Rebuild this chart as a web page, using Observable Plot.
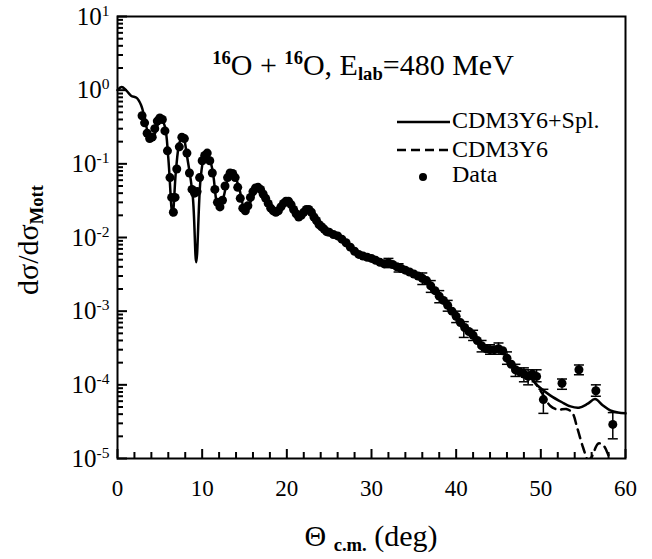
<!DOCTYPE html>
<html><head><meta charset="utf-8">
<script src="https://cdn.jsdelivr.net/npm/d3@7"></script>
<script src="https://cdn.jsdelivr.net/npm/@observablehq/plot@0.6"></script>
<style>
body{margin:0;background:#fff;}
#chart{width:652px;height:559px;}
</style></head><body><div id="chart"></div>
<script>
// ---- data ----
const thetaSpl = [0,0.5,1.0,1.6,2.3,2.8,3.2,3.7,4.1,4.6, 5.1,5.6,6.0,6.5,6.9,7.3,7.7,8.3,8.9,9.3, 9.8,10.2,10.6,11.2,11.9,12.5,13.0,13.6,14.3,15.1, 15.9,16.7,17.7,18.9,20.2,21.4,22.6,23.7,25.0,26.5, 28.0,29.5,31.0,32.5,34.0,35.5,36.6,37.5,38.5,39.3, 40.1,41.0,41.7,42.5,43.2,44.2,45.2,46.4,47.5,48.4, 49.6,51.1,52.5,53.5,54.5,55.5,56.4,57.3,58.2,59.1, 60];
const sigmaSpl = [1.0,1.1,1.0,0.84,0.78,0.62,0.42,0.24,0.21,0.30, 0.42,0.32,0.12,0.02,0.08,0.19,0.24,0.11,0.035,0.0046, 0.06,0.12,0.14,0.085,0.026,0.035,0.06,0.075,0.05,0.023, 0.034,0.048,0.033,0.022,0.031,0.019,0.024,0.016,0.012,0.0095, 0.0066,0.0055,0.0046,0.0042,0.0036,0.003,0.0025,0.0019,0.0014,0.0011, 0.00082,0.00062,0.00051,0.0004,0.00032,0.00031,0.0003,0.0002,0.00016,0.00014, 9.8e-5,7.2e-5,5.8e-5,5.1e-5,4.9e-5,5.5e-5,6.4e-5,5.3e-5,4.5e-5,4.2e-5, 4.1e-5];

const thetaNoSpl = [47.5,48.4,49.6,50.3,51.1,52.0,53.0,53.7,54.3,55.0,55.6,56.0,56.8,57.4,58.0,58.6,59.0];
const sigmaNoSpl = [1.6e-4,1.4e-4,9.6e-5,7.2e-5,5.2e-5,4.6e-5,4.7e-5,4.2e-5,2.6e-5,1.4e-5,0.95e-5,1.05e-5,1.6e-5,1.5e-5,1.1e-5,0.75e-5,0.55e-5];

const thetaData = [2.9,3.2,3.5,3.8,4.1,4.4,4.7,5.0,5.3,5.6, 5.9,6.2,6.4,6.6,6.8,7.0,7.3,7.6,7.9,8.2, 8.5,8.8,9.1,9.4,9.7,10.0,10.3,10.6,10.9,11.2, 11.5,11.8,12.1,12.4,12.7,13.0,13.3,13.6,13.9,14.2, 14.5,14.8,15.1,15.4,15.7,16.0,16.3,16.6,16.9,17.2, 17.5,17.8,18.1,18.4,18.7,19.0,19.3,19.6,19.9,20.2, 20.5,20.8,21.1,21.4,21.7,22.0,22.3,22.6,22.9,23.2, 23.5,23.8,24.1,24.4,24.7,25.0,25.5,26.0,26.5,27.0, 27.5,28.0,28.5,29.0,29.5,30.0,30.5,31.0,31.5,32.0, 32.5,33.0,33.5,34.0,34.5,35.0,35.5,36.0,36.5,37.0, 37.5,38.0,38.5,39.0,39.5,40.0,40.5,41.0,41.5,42.0, 42.5,43.0,43.5,44.0,44.5,45.0,45.5,46.0,46.5,47.0, 47.5,48.0,48.5,49.0,49.5, 50.3,52.5,54.5,56.5,58.5];
const sigmaData = [0.45,0.36,0.26,0.22,0.23,0.30,0.38,0.42,0.40,0.28, 0.15,0.065,0.035,0.022,0.035,0.085,0.17,0.23,0.22,0.14, 0.075,0.045,0.04,0.042,0.065,0.11,0.13,0.14,0.11,0.075, 0.045,0.03,0.026,0.032,0.05,0.065,0.075,0.074,0.065,0.048, 0.034,0.025,0.023,0.027,0.035,0.042,0.047,0.048,0.045,0.039, 0.034,0.029,0.025,0.023,0.022,0.023,0.026,0.029,0.031,0.031, 0.028,0.024,0.021,0.019,0.02,0.022,0.024,0.024,0.022,0.019, 0.017,0.015,0.014,0.013,0.012,0.0118,0.011,0.0105,0.0095,0.0085, 0.0074,0.0065,0.0059,0.0056,0.0054,0.0052,0.0049,0.0046,0.0044,0.0045, 0.0043,0.004,0.0038,0.0036,0.0034,0.0032,0.003,0.0028,0.0026,0.0022, 0.0019,0.0016,0.0014,0.0012,0.001,0.00085,0.0007,0.0006,0.00053,0.00047, 0.0004,0.00034,0.00031,0.0003,0.0003,0.00031,0.00029,0.00023,0.00019,0.00016, 0.00015,0.00014,0.00013,0.00014,0.00013, 6.3e-5,1.05e-4,1.6e-4,8.3e-5,2.9e-5];

const errTheta = [32.0,33.2,36.0,37.0,38.0,39.0,40.0,40.9,42.0,43.0,44.0,45.0,46.0,47.0,48.0,48.5,49.5,50.3,52.5,54.5,56.5,58.5];
const errLow   = [0.0039,0.0034,0.0023,0.0018,0.0013,0.001,0.0007,0.00044,0.0004,0.00028,0.00026,0.00026,0.00019,0.00013,0.00011,0.0001,0.00011,4.1e-5,8.7e-5,1.37e-4,7e-5,1.85e-5];
const errHigh  = [0.0052,0.0044,0.0033,0.0026,0.0019,0.0014,0.001,0.00072,0.00055,0.0004,0.00035,0.00037,0.00028,0.00019,0.00017,0.00016,0.00016,8.7e-5,1.2e-4,1.86e-4,1.0e-4,4.2e-5];

const xTickLabels = [0,10,20,30,40,50,60];
const xMinorStep = 2;
const yDecadeExponents = [-5,-4,-3,-2,-1,0,1];

const seriesNames = ["CDM3Y6+Spl.", "CDM3Y6", "Data"];
const titleText = "^b{16}O + ^b{16}O, E_b{lab}=480 MeV";
const yTitle = "dσ/dσ_b{Mott}";
const xTitle = "Θ _b{c.m.} (deg)";

// ---- derived tables ----
const spl = thetaSpl.map((t, i) => ({t, s: sigmaSpl[i]}));
const noSpl = thetaNoSpl.map((t, i) => ({t, s: sigmaNoSpl[i]}));
const data = thetaData.map((t, i) => ({t, s: sigmaData[i]}));
const errs = errTheta.map((t, i) => ({t, lo: errLow[i], hi: errHigh[i]}));
const yMajor = yDecadeExponents.map(e => Math.pow(10, e));
const yMinor = [];
yDecadeExponents.slice(0, -1).forEach(e => { for (let k = 2; k <= 9; k++) yMinor.push(k * Math.pow(10, e)); });
const xMinor = d3.range(0, 60 + 1e-9, xMinorStep).filter(v => v % 10 !== 0);

const capSymbol = {draw(ctx) { ctx.moveTo(-5, 0); ctx.lineTo(5, 0); }};

const chart = Plot.plot({
  width: 652, height: 559,
  marginLeft: 117, marginRight: 27, marginTop: 16, marginBottom: 101,
  style: {fontFamily: "'Liberation Serif', 'Times New Roman', serif", color: "black", background: "white"},
  x: {domain: [0, 60]},
  y: {type: "log", domain: [1e-5, 10]},
  marks: [
    Plot.line(spl, {x: "t", y: "s", curve: "catmull-rom", stroke: "black", strokeWidth: 2.5}),
    Plot.line(noSpl, {x: "t", y: "s", curve: "catmull-rom", stroke: "black", strokeWidth: 2.5, strokeDasharray: "9,6", clip: true}),
    Plot.ruleX(errs, {x: "t", y1: "lo", y2: "hi", stroke: "black", strokeWidth: 1.5}),
    Plot.dot(errs, {x: "t", y: "lo", symbol: capSymbol, fill: "none", stroke: "black", strokeWidth: 1.5}),
    Plot.dot(errs, {x: "t", y: "hi", symbol: capSymbol, fill: "none", stroke: "black", strokeWidth: 1.5}),
    Plot.dot(data, {x: "t", y: "s", r: 4.5, fill: "black", stroke: "none"}),
    Plot.frame({stroke: "black", strokeWidth: 2}),
    Plot.axisX(xMinor, {tickSize: -6, strokeWidth: 2, fill: "none", label: null}),
    Plot.axisX(xTickLabels, {tickSize: -9, strokeWidth: 2, fill: "none", label: null}),
    Plot.axisX(xTickLabels, {tickSize: 0, tickPadding: 21, fontSize: 23, label: null}),
    Plot.axisY(yMinor, {tickSize: -6, strokeWidth: 2, fill: "none", label: null}),
    Plot.axisY(yMajor, {tickSize: -10, strokeWidth: 2, fill: "none", label: null}),
    Plot.axisY(yMajor, {tickSize: 0, tickPadding: 8, fontSize: 25, label: null,
      tickFormat: d => `10^{${Math.round(Math.log10(d))}}`})
  ]
});
document.getElementById("chart").appendChild(chart);

const svg = d3.select(chart);
const font = "'Liberation Serif', 'Times New Roman', serif";
// title inside the frame
svg.append("text").attr("x", 363).attr("y", 75).attr("text-anchor", "middle")
  .attr("font-size", 30).attr("font-family", font).attr("fill", "black").text(titleText);
// axis titles
svg.append("text").attr("transform", "translate(38,240) rotate(-90)").attr("text-anchor", "middle")
  .attr("font-size", 30).attr("font-family", font).attr("fill", "black").text(yTitle);
svg.append("text").attr("x", 371).attr("y", 546).attr("text-anchor", "middle")
  .attr("font-size", 30).attr("font-family", font).attr("fill", "black").text(xTitle);
// legend
const lg = svg.append("g").attr("font-family", font).attr("font-size", 24).attr("fill", "black").attr("text-anchor", "start");
lg.append("line").attr("x1", 397).attr("x2", 450).attr("y1", 122).attr("y2", 122).attr("stroke", "black").attr("stroke-width", 2.5);
lg.append("line").attr("x1", 397).attr("x2", 450).attr("y1", 150).attr("y2", 150).attr("stroke", "black").attr("stroke-width", 2.5).attr("stroke-dasharray", "9,5");
lg.append("circle").attr("cx", 423).attr("cy", 177).attr("r", 4).attr("fill", "black");
[128, 157, 182].forEach((y, i) => lg.append("text").attr("x", 452).attr("y", y).attr("text-anchor", "start").text(seriesNames[i]));

// rich text: ^{..} superscript, _{..} subscript, b = bold
function richify(el) {
  const s = el.textContent;
  if (!/[\^_]b?\{/.test(s)) return;
  const re = /([\^_])(b?)\{([^}]*)\}/g;
  const ns = "http://www.w3.org/2000/svg";
  while (el.firstChild) el.removeChild(el.firstChild);
  const add = (txt, kind, bold) => {
    const t = document.createElementNS(ns, "tspan");
    t.textContent = txt;
    if (kind) {
      t.setAttribute("baseline-shift", kind === "^" ? "0.6em" : "-0.25em");
      t.setAttribute("font-size", "62%");
    }
    if (bold) t.setAttribute("font-weight", "bold");
    el.appendChild(t);
  };
  let last = 0, m;
  while ((m = re.exec(s))) {
    if (m.index > last) add(s.slice(last, m.index));
    add(m[3], m[1], m[2]);
    last = re.lastIndex;
  }
  if (last < s.length) add(s.slice(last));
}
chart.querySelectorAll("text").forEach(richify);
</script>
</body></html>
